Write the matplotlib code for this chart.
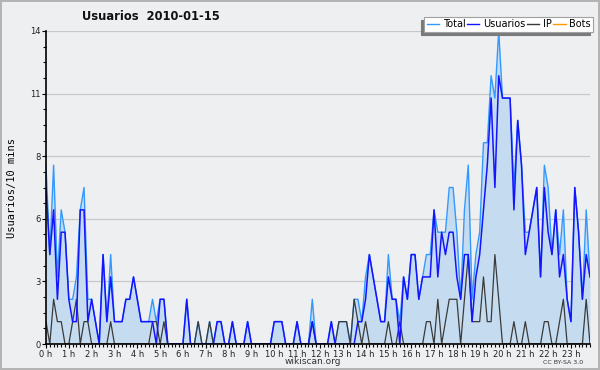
import numpy as np
import matplotlib
matplotlib.use("Agg")
import matplotlib.pyplot as plt
from matplotlib.ticker import MultipleLocator

# values per 10 minutes, 144 slots for the day
usuarios = [7, 4, 6, 2, 5, 5, 2, 1, 1, 6,
            6, 1, 2, 1, 0, 4, 1, 3, 1, 1,
            1, 2, 2, 3, 2, 1, 1, 1, 1, 0,
            2, 2, 0, 0, 0, 0, 0, 2, 0, 0,
            0, 0, 0, 0, 0, 1, 1, 0, 0, 1,
            0, 0, 0, 1, 0, 0, 0, 0, 0, 0,
            1, 1, 1, 0, 0, 0, 1, 0, 0, 0,
            1, 0, 0, 0, 0, 1, 0, 0, 0, 0,
            0, 0, 1, 1, 2, 4, 3, 2, 1, 1,
            3, 2, 2, 0, 3, 2, 4, 4, 2, 3,
            3, 3, 6, 3, 5, 4, 5, 5, 3, 2,
            4, 4, 1, 3, 4, 6, 8, 11, 7, 12,
            11, 11, 11, 6, 10, 8, 4, 5, 6, 7,
            3, 7, 5, 4, 6, 3, 4, 2, 1, 7,
            5, 2, 4, 3]

ip = [1, 0, 2, 1, 1, 0, 0, 1, 2, 0,
      1, 1, 0, 0, 0, 0, 0, 1, 0, 0,
      0, 0, 0, 0, 0, 0, 0, 0, 1, 1,
      0, 1, 0, 0, 0, 0, 0, 0, 0, 0,
      1, 0, 0, 1, 0, 0, 0, 0, 0, 0,
      0, 0, 0, 0, 0, 0, 0, 0, 0, 0,
      0, 0, 0, 0, 0, 0, 0, 0, 0, 0,
      1, 0, 0, 0, 0, 0, 0, 1, 1, 1,
      0, 2, 1, 0, 1, 0, 0, 0, 0, 0,
      1, 0, 0, 1, 0, 0, 0, 0, 0, 0,
      1, 1, 0, 2, 0, 1, 2, 2, 2, 0,
      2, 4, 1, 1, 1, 3, 1, 1, 4, 2,
      0, 0, 0, 1, 0, 0, 1, 0, 0, 0,
      0, 1, 1, 0, 0, 1, 2, 0, 0, 0,
      0, 0, 2, 0]

total = [8, 4, 8, 3, 6, 5, 2, 2, 3, 6,
         7, 2, 2, 1, 0, 4, 1, 4, 1, 1,
         1, 2, 2, 3, 2, 1, 1, 1, 2, 1,
         2, 2, 0, 0, 0, 0, 0, 2, 0, 0,
         1, 0, 0, 1, 0, 1, 1, 0, 0, 1,
         0, 0, 0, 1, 0, 0, 0, 0, 0, 0,
         1, 1, 1, 0, 0, 0, 1, 0, 0, 0,
         2, 0, 0, 0, 0, 1, 0, 1, 1, 1,
         0, 2, 2, 1, 3, 4, 3, 2, 1, 1,
         4, 2, 2, 1, 3, 2, 4, 4, 2, 3,
         4, 4, 6, 5, 5, 5, 7, 7, 5, 2,
         6, 8, 2, 4, 5, 9, 9, 12, 11, 14,
         11, 11, 11, 7, 10, 8, 5, 5, 6, 7,
         3, 8, 7, 4, 6, 4, 6, 2, 1, 7,
         5, 2, 6, 3]

bots = [0] * 144

hour_labels = ['%d h' % h for h in range(24)]

bg = '#eeeff1'
fig = plt.figure(figsize=(6, 3.7), dpi=100, facecolor=bg, edgecolor='#b4b4b4', linewidth=1.5)
ax = fig.add_axes([46/600, 26/370, 544/600, 313/370])
ax.set_facecolor(bg)

x = np.arange(len(total))
ax.fill_between(x, total, 0, color='#c5dcf0', lw=0, zorder=1)
ax.plot(x, bots, color='#ff9900', lw=1, zorder=1.2)
ax.plot(x, total, color='#3399ff', lw=1, zorder=2)
ax.plot(x, usuarios, color='#1414ff', lw=1.1, zorder=2.2)
ax.plot(x, ip, color='#3a3a3a', lw=0.9, zorder=2.1)

ax.set_xlim(0, len(total) - 1)
ax.set_ylim(0, 14)

yt = np.linspace(0, 14, 6)
ax.set_yticks(yt)
ax.set_yticklabels(['%.0f' % v for v in yt])
ax.yaxis.set_minor_locator(MultipleLocator(0.7))
ax.set_xticks(np.arange(0, 144, 6))
ax.set_xticklabels(hour_labels)
ax.xaxis.set_minor_locator(MultipleLocator(1))
ax.tick_params(axis='both', which='major', labelsize=6, length=3, width=0.8,
               color='black', labelcolor='#222222', pad=1)
ax.tick_params(axis='both', which='minor', length=2, width=0.8)
ax.grid(axis='y', color='#c8c8c8', lw=0.9, zorder=0)
ax.set_axisbelow(True)

for s in ['top', 'right']:
    ax.spines[s].set_visible(False)
for s in ['left', 'bottom']:
    ax.spines[s].set_linewidth(1.2)
    ax.spines[s].set_zorder(3)

ax.set_ylabel('Usuarios/10 mins', family='DejaVu Sans Mono', fontsize=7.5, labelpad=9)

fig.text(151/600, 1 - 17/370, 'Usuarios  2010-01-15', ha='center', va='center',
         fontsize=8.3, fontweight='semibold', color='#111111')
fig.text(313/600, 1 - 362/370, 'wikiscan.org', ha='center', va='center',
         fontsize=6.5, color='#333333')
fig.text(563/600, 1 - 362/370, 'CC BY-SA 3.0', ha='center', va='center',
         fontsize=4.5, color='#333333')

handles = [plt.Line2D([], [], color=c, lw=1) for c in ['#3399ff', '#1414ff', '#3a3a3a', '#ff9900']]
leg = fig.legend(handles, ['Total', 'Usuarios', 'IP', 'Bots'], loc='upper right',
                 bbox_to_anchor=(593/600, 1 - 17/370), ncol=4, fontsize=7,
                 handlelength=1.3, handletextpad=0.35, columnspacing=0.15,
                 borderpad=0.25, borderaxespad=0, fancybox=False, framealpha=1,
                 edgecolor='#a0a0a0',
                 shadow={'ox': -2.5, 'oy': -2.5, 'facecolor': '#7a7a7a',
                         'edgecolor': '#7a7a7a', 'alpha': 1})
leg.get_frame().set_linewidth(0.8)

fig.savefig('out.png', dpi=100, facecolor=fig.get_facecolor(), edgecolor=fig.get_edgecolor())
